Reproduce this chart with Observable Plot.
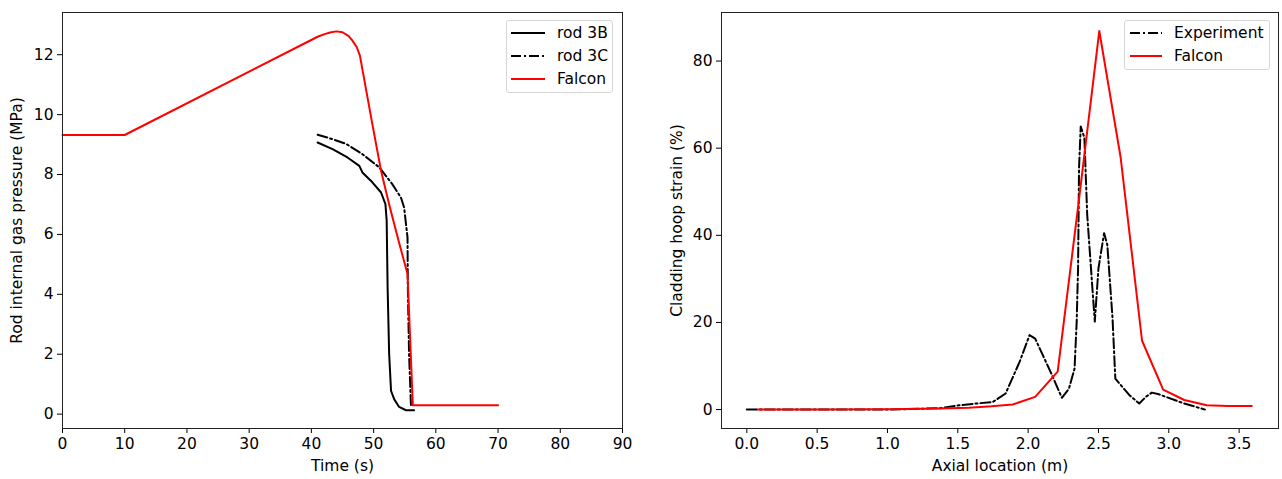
<!DOCTYPE html>
<html>
<head>
<meta charset="utf-8">
<script src="https://cdn.jsdelivr.net/npm/d3@7"></script>
<script src="https://cdn.jsdelivr.net/npm/@observablehq/plot@0.6"></script>
<style>
  body { margin: 0; background: white; }
  #wrap { position: relative; width: 1282px; height: 479px; font-family: "DejaVu Sans", sans-serif; }
  .panel { position: absolute; top: 0; }
  .legend { position: absolute; background: rgba(255,255,255,0.8); border: 1px solid #d6d6d6; border-radius: 3px; box-sizing: border-box; font-size: 15.5px; }
  .legend .row { position: absolute; left: 0; height: 20px; white-space: nowrap; }
  .legend svg { position: absolute; left: 0; top: 0; }
  .legend span { position: absolute; top: 0; line-height: 20px; color: #000; }
</style>
</head>
<body>
<div id="wrap"></div>
<script>
// ---- Left panel: rod internal gas pressure vs time ----
const falconTime = [0, 10, 41, 42, 43, 44, 45, 46, 46.6, 47.3, 47.8, 48.5, 49.7, 51.2, 52.5, 54, 55.45, 56.3, 70];
const falconPressure = [9.32, 9.32, 12.6, 12.68, 12.74, 12.78, 12.75, 12.62, 12.47, 12.25, 11.97, 11.17, 9.79, 8.12, 7.0, 5.8, 4.68, 0.3, 0.3];

const rod3BTime = [41.0, 43.4, 45.8, 47.7, 48.2, 49.8, 51.2, 51.9, 52.1, 52.25, 52.5, 52.8, 53.3, 54.1, 55.2, 56.5];
const rod3BPressure = [9.07, 8.85, 8.57, 8.29, 8.07, 7.74, 7.40, 7.01, 6.46, 4.23, 2.0, 0.78, 0.5, 0.24, 0.13, 0.13];

const rod3CTime = [41.0, 43.4, 45.6, 48.2, 50.9, 53.0, 54.4, 54.9, 55.45, 55.5, 55.7, 56.0];
const rod3CPressure = [9.33, 9.18, 9.02, 8.68, 8.24, 7.68, 7.23, 6.9, 5.9, 4.23, 2.0, 0.3];

const timeTicks = [0, 10, 20, 30, 40, 50, 60, 70, 80, 90];
const pressureTicks = [0, 2, 4, 6, 8, 10, 12];

// ---- Right panel: cladding hoop strain vs axial location ----
const falconAxial = [0.077, 0.5, 1.0, 1.37, 1.58, 1.74, 1.89, 2.05, 2.21, 2.36, 2.506, 2.658, 2.81, 2.96, 3.11, 3.27, 3.42, 3.59];
const falconStrain = [0.0, 0.02, 0.08, 0.24, 0.45, 0.75, 1.16, 2.92, 8.7, 47.8, 86.9, 57.8, 15.8, 4.6, 2.2, 1.0, 0.8, 0.8];

const expAxial = [0.0, 0.5, 1.0, 1.37, 1.51, 1.75, 1.84, 1.94, 2.01, 2.05, 2.17, 2.24, 2.29, 2.33, 2.345, 2.355, 2.362, 2.374, 2.40, 2.42, 2.457, 2.474, 2.50, 2.54, 2.563, 2.60, 2.62, 2.72, 2.79, 2.84, 2.88, 2.93, 3.10, 3.257];
const expStrain = [0.0, 0.0, 0.0, 0.3, 1.0, 1.77, 3.7, 11, 17.1, 16.3, 7.9, 2.7, 4.8, 9.4, 20, 32.4, 55.5, 65.0, 62.4, 44.7, 27.8, 20.2, 32.4, 40.5, 37.8, 21, 7.1, 3.3, 1.4, 3.0, 3.9, 3.5, 1.5, 0.0];

const axialTicks = [0.0, 0.5, 1.0, 1.5, 2.0, 2.5, 3.0, 3.5];
const strainTicks = [0, 20, 40, 60, 80];

const zip = (xs, ys) => xs.map((x, i) => ({x, y: ys[i]}));
const DASHDOT = "10,3,2,3";
const RED = "#ff0000";
const style = {fontFamily: "DejaVu Sans, sans-serif", fontSize: "15.5px", background: "white", color: "black", overflow: "visible"};

const left = Plot.plot({
  width: 640, height: 479,
  marginLeft: 62, marginRight: 18, marginTop: 12, marginBottom: 51,
  style,
  x: {domain: [0, 90], label: null},
  y: {domain: [-0.48, 13.41], label: null},
  marks: [
    Plot.axisX({ticks: timeTicks, tickSize: 5, tickPadding: 4, label: null, fontSize: 15.5}),
    Plot.axisY({ticks: pressureTicks, tickSize: 5, tickPadding: 4, label: null, fontSize: 15.5}),
    Plot.line(zip(rod3BTime, rod3BPressure), {x: "x", y: "y", stroke: "black", strokeWidth: 2}),
    Plot.line(zip(rod3CTime, rod3CPressure), {x: "x", y: "y", stroke: "black", strokeWidth: 2, strokeDasharray: DASHDOT}),
    Plot.line(zip(falconTime, falconPressure), {x: "x", y: "y", stroke: RED, strokeWidth: 2}),
    Plot.frame({stroke: "#222", strokeWidth: 1}),
    Plot.text(["Time (s)"], {frameAnchor: "bottom", dy: 38, textAnchor: "middle", lineAnchor: "middle", fill: "black", fontSize: 15.5}),
    Plot.text(["Rod internal gas pressure (MPa)"], {frameAnchor: "left", dx: -45, rotate: -90, textAnchor: "middle", lineAnchor: "middle", fill: "black", fontSize: 15.5})
  ]
});

const right = Plot.plot({
  width: 642, height: 479,
  marginLeft: 81, marginRight: 4, marginTop: 12, marginBottom: 51,
  style,
  x: {domain: [-0.18, 3.78], label: null},
  y: {domain: [-4.34, 91.14], label: null},
  marks: [
    Plot.axisX({ticks: axialTicks, tickFormat: d3.format(".1f"), tickSize: 5, tickPadding: 4, label: null, fontSize: 15.5}),
    Plot.axisY({ticks: strainTicks, tickSize: 5, tickPadding: 4, label: null, fontSize: 15.5}),
    Plot.line(zip(expAxial, expStrain), {x: "x", y: "y", stroke: "black", strokeWidth: 2, strokeDasharray: DASHDOT}),
    Plot.line(zip(falconAxial, falconStrain), {x: "x", y: "y", stroke: RED, strokeWidth: 2}),
    Plot.frame({stroke: "#222", strokeWidth: 1}),
    Plot.text(["Axial location (m)"], {frameAnchor: "bottom", dy: 38, textAnchor: "middle", lineAnchor: "middle", fill: "black", fontSize: 15.5}),
    Plot.text(["Cladding hoop strain (%)"], {frameAnchor: "left", dx: -44, rotate: -90, textAnchor: "middle", lineAnchor: "middle", fill: "black", fontSize: 15.5})
  ]
});

const wrap = document.getElementById("wrap");
const p1 = document.createElement("div"); p1.className = "panel"; p1.style.left = "0px"; p1.appendChild(left);
const p2 = document.createElement("div"); p2.className = "panel"; p2.style.left = "640px"; p2.appendChild(right);
wrap.appendChild(p1); wrap.appendChild(p2);

function legend(x, y, w, h, items, lineX0, lineX1, textX, rowYs) {
  const box = document.createElement("div");
  box.className = "legend";
  Object.assign(box.style, {left: x + "px", top: y + "px", width: w + "px", height: h + "px"});
  items.forEach((it, i) => {
    const row = document.createElement("div");
    row.className = "row";
    row.style.top = (rowYs[i] - y - 10) + "px";
    row.style.width = (w - 2) + "px";
    const svg = d3.create("svg").attr("width", lineX1 - x + 2).attr("height", 20);
    svg.append("line").attr("x1", lineX0 - x - 1).attr("x2", lineX1 - x - 1).attr("y1", 10).attr("y2", 10)
      .attr("stroke", it.color).attr("stroke-width", 2).attr("stroke-dasharray", it.dash || null);
    row.appendChild(svg.node());
    const sp = document.createElement("span");
    sp.style.left = (textX - x - 1) + "px";
    sp.textContent = it.label;
    row.appendChild(sp);
    box.appendChild(row);
  });
  wrap.appendChild(box);
}

legend(506, 20, 107, 73, [
  {label: "rod 3B", color: "black"},
  {label: "rod 3C", color: "black", dash: DASHDOT},
  {label: "Falcon", color: RED}
], 511, 545, 557, [32, 55, 78]);

legend(1124, 20, 146, 50, [
  {label: "Experiment", color: "black", dash: DASHDOT},
  {label: "Falcon", color: RED}
], 1130, 1162, 1174, [32, 55]);
</script>
</body>
</html>
